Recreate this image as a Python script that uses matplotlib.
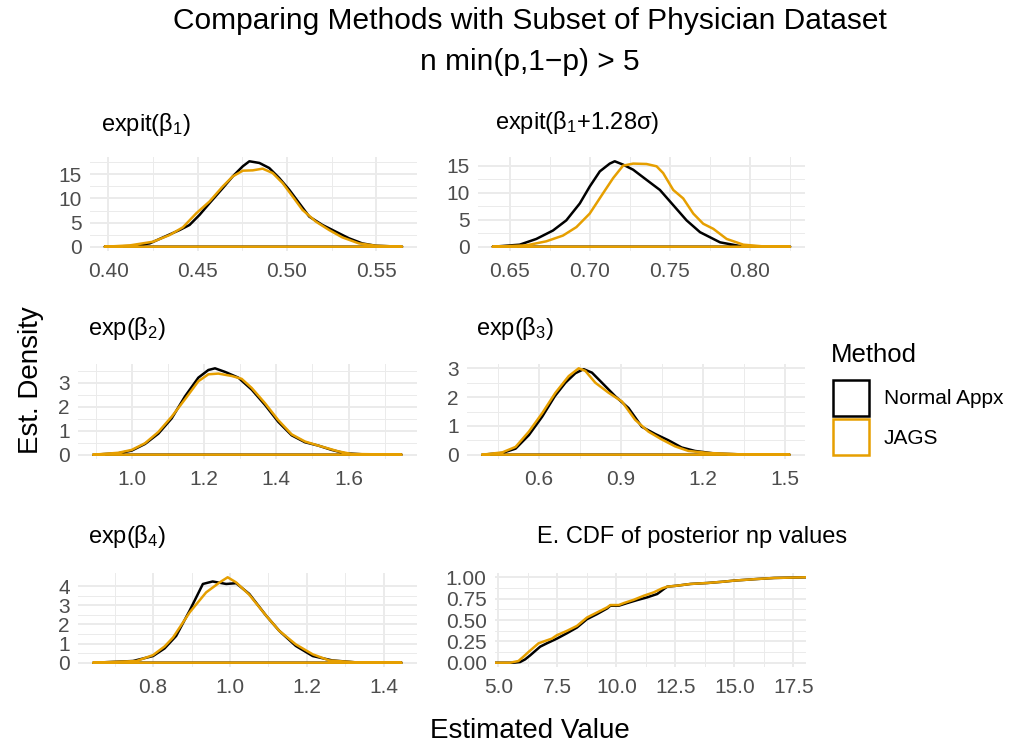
import matplotlib
matplotlib.use("Agg")
import matplotlib.pyplot as plt
from matplotlib.patches import Rectangle

plt.rcParams['font.family'] = ['Liberation Sans', 'DejaVu Sans']
plt.rcParams['mathtext.fontset'] = 'custom'
plt.rcParams['mathtext.rm'] = 'Liberation Sans'
plt.rcParams['mathtext.it'] = 'Liberation Sans'
plt.rcParams['mathtext.default'] = 'regular'

BLACK = "#000000"
ORANGE = "#E69F00"

# ---- data (density outlines) ----
b1_x_norm = [0.3981, 0.4121, 0.4232, 0.4307, 0.4400, 0.4455, 0.4511, 0.4567, 0.4641, 0.4697, 0.4753, 0.4790,
             0.4846, 0.4901, 0.4957, 0.5013, 0.5069, 0.5125, 0.5199, 0.5273, 0.5348, 0.5422, 0.5496, 0.5645]
b1_y_norm = [0, 0.14, 0.69, 1.94, 3.47, 4.51, 6.60, 9.03, 12.15, 14.58, 16.67, 17.71,
             17.36, 16.32, 14.24, 11.81, 9.03, 6.25, 4.51, 3.13, 1.74, 0.69, 0.21, 0]
b1_x_jags = [0.3981, 0.4121, 0.4251, 0.4344, 0.4418, 0.4493, 0.4567, 0.4641, 0.4697, 0.4753, 0.4809, 0.4864,
             0.4920, 0.4976, 0.5032, 0.5087, 0.5162, 0.5236, 0.5310, 0.5403, 0.5496, 0.5645]
b1_y_jags = [0, 0.28, 1.04, 2.43, 4.03, 6.94, 9.38, 12.5, 14.58, 15.76, 15.83, 16.18,
             15.28, 13.19, 10.42, 7.64, 5.21, 3.47, 1.94, 0.69, 0.21, 0]

q_x_norm = [0.6396, 0.6563, 0.6667, 0.6771, 0.6854, 0.6938, 0.7000, 0.7063, 0.7125, 0.7156, 0.7208, 0.7271,
            0.7354, 0.7438, 0.7521, 0.7604, 0.7688, 0.7813, 0.7938, 0.8250]
q_y_norm = [0, 0.38, 1.44, 3.0, 4.88, 8.0, 11.13, 13.94, 15.38, 15.81, 15.19, 14.25,
            12.38, 10.5, 7.69, 4.88, 2.69, 0.81, 0.13, 0]
q_x_jags = [0.6396, 0.6604, 0.6729, 0.6833, 0.6917, 0.7000, 0.7083, 0.7146, 0.7208, 0.7271, 0.7354, 0.7417,
            0.7458, 0.7521, 0.7583, 0.7646, 0.7708, 0.7771, 0.7854, 0.7958, 0.8083, 0.8250]
q_y_jags = [0, 0.25, 1.0, 2.06, 3.63, 6.13, 9.88, 12.69, 15.0, 15.38, 15.31, 14.88,
            13.63, 10.5, 8.94, 6.13, 4.25, 3.31, 1.44, 0.38, 0.06, 0]

b2_x_norm = [0.894, 0.963, 1.0, 1.0369, 1.0737, 1.1106, 1.1475, 1.1843, 1.212, 1.2304, 1.2581, 1.2949,
             1.3318, 1.3687, 1.4055, 1.4424, 1.4793, 1.5161, 1.553, 1.5899, 1.6452, 1.7465]
b2_y_norm = [0, 0.06, 0.17, 0.45, 0.88, 1.52, 2.44, 3.22, 3.54, 3.61, 3.46, 3.22,
             2.72, 2.08, 1.37, 0.81, 0.52, 0.38, 0.20, 0.06, 0.01, 0]
b2_x_jags = [0.894, 0.963, 1.0, 1.0369, 1.0737, 1.1106, 1.1475, 1.1843, 1.212, 1.2396, 1.2765, 1.3041,
             1.3318, 1.3687, 1.4055, 1.4424, 1.4793, 1.5161, 1.5714, 1.6083, 1.7465]
b2_y_jags = [0, 0.08, 0.20, 0.48, 0.95, 1.59, 2.32, 3.07, 3.36, 3.39, 3.29, 3.17,
             2.79, 2.15, 1.44, 0.85, 0.55, 0.38, 0.14, 0.03, 0]

b3_x_norm = [0.3932, 0.4662, 0.5148, 0.5635, 0.6122, 0.6584, 0.6973, 0.7338, 0.7642, 0.7946, 0.8311, 0.8798,
             0.9285, 0.9771, 1.0258, 1.0745, 1.1231, 1.1718, 1.2448, 1.3421, 1.5185]
b3_y_norm = [0, 0.06, 0.21, 0.68, 1.32, 2.03, 2.5, 2.83, 2.97, 2.85, 2.5, 2.03,
             1.62, 0.97, 0.72, 0.5, 0.25, 0.13, 0.04, 0.01, 0]
b3_x_jags = [0.3932, 0.4662, 0.5148, 0.5635, 0.6122, 0.6608, 0.7095, 0.7460, 0.7703, 0.8068, 0.8555, 0.9041,
             0.9528, 1.0015, 1.0501, 1.0988, 1.1474, 1.2204, 1.3421, 1.5185]
b3_y_jags = [0, 0.08, 0.27, 0.80, 1.44, 2.15, 2.73, 3.0, 2.91, 2.5, 2.15, 1.85,
             1.21, 0.80, 0.53, 0.29, 0.13, 0.06, 0.01, 0]

b4_x_norm = [0.645, 0.748, 0.800, 0.830, 0.860, 0.895, 0.9295, 0.955, 0.990, 1.016, 1.050, 1.094, 1.128, 1.171,
             1.215, 1.266, 1.327, 1.446]
b4_y_norm = [0, 0.09, 0.35, 0.75, 1.40, 2.72, 4.12, 4.25, 4.12, 4.16, 3.60, 2.46, 1.67, 0.88,
             0.35, 0.12, 0.02, 0]
b4_x_jags = [0.645, 0.757, 0.800, 0.830, 0.852, 0.895, 0.938, 0.973, 0.994, 1.016, 1.050, 1.094, 1.128, 1.171,
             1.215, 1.258, 1.327, 1.446]
b4_y_jags = [0, 0.09, 0.40, 0.85, 1.32, 2.63, 3.68, 4.20, 4.47, 4.20, 3.56, 2.46, 1.67, 0.96,
             0.44, 0.12, 0.02, 0]

# ECDF of posterior np values
np_x_norm = [4.858, 5.637, 5.92, 6.133, 6.346, 6.558, 6.771, 7.054, 7.479, 7.904, 8.329, 8.754, 9.178, 9.603,
             9.745, 10.099, 10.453, 10.878, 11.303, 11.728, 12.011, 12.153, 12.578, 13.144, 13.853, 14.561,
             14.986, 15.977, 16.686, 18.031]
np_y_norm = [0, 0, 0.008, 0.039, 0.086, 0.137, 0.188, 0.227, 0.282, 0.345, 0.412, 0.51, 0.569, 0.635,
             0.667, 0.667, 0.698, 0.733, 0.765, 0.804, 0.863, 0.89, 0.902, 0.922, 0.933, 0.949,
             0.961, 0.98, 0.992, 1.0]
np_x_jags = [4.858, 5.496, 5.85, 6.062, 6.275, 6.487, 6.7, 6.983, 7.266, 7.479, 7.904, 8.329, 8.754, 9.178,
             9.603, 9.745, 10.099, 10.312, 10.737, 11.161, 11.586, 11.941, 12.153, 12.578, 13.144, 13.853,
             14.561, 14.986, 15.977, 16.686, 18.031]
np_y_jags = [0, 0, 0.02, 0.071, 0.125, 0.176, 0.227, 0.255, 0.282, 0.322, 0.373, 0.431, 0.529, 0.588,
             0.647, 0.675, 0.675, 0.698, 0.737, 0.784, 0.824, 0.871, 0.89, 0.902, 0.922, 0.933,
             0.949, 0.961, 0.98, 0.992, 1.0]

methods = ["Normal Appx", "JAGS"]

W, H = 1010, 747
fig = plt.figure(figsize=(W / 100, H / 100), dpi=100)
fig.patch.set_facecolor("white")

TICK = 15
LW = 1.8


def add_ax(l, t, r, b):
    return fig.add_axes([l / W, 1 - b / H, (r - l) / W, (b - t) / H])


def style(ax, xmaj, xmin, ymaj, ymin, xlabels, ylabels):
    ax.set_facecolor("white")
    for s in ax.spines.values():
        s.set_visible(False)
    ax.set_xticks(xmaj)
    ax.set_xticklabels(xlabels)
    ax.set_xticks(xmin, minor=True)
    ax.set_yticks(ymaj)
    ax.set_yticklabels(ylabels)
    ax.set_yticks(ymin, minor=True)
    ax.grid(True, which="major", color="#EBEBEB", lw=1.4)
    ax.grid(True, which="minor", color="#EBEBEB", lw=0.7)
    ax.set_axisbelow(True)
    ax.tick_params(which="both", length=0, labelsize=TICK, labelcolor="#4D4D4D")
    ax.tick_params(axis="x", pad=8)
    ax.tick_params(axis="y", pad=6)


def density(ax, xs, ys, color):
    xx = list(xs) + [xs[0]]
    yy = list(ys) + [0]
    ax.plot(xx, yy, color=color, lw=LW, solid_joinstyle="round", solid_capstyle="round")


# panel 1
ax1 = add_ax(90, 157, 417, 251)
density(ax1, b1_x_norm, b1_y_norm, BLACK)
density(ax1, b1_x_jags, b1_y_jags, ORANGE)
ax1.margins(x=0.05, y=0.05)
style(ax1, [0.40, 0.45, 0.50, 0.55], [0.425, 0.475, 0.525], [0, 5, 10, 15], [2.5, 7.5, 12.5, 17.5],
      ["0.40", "0.45", "0.50", "0.55"], ["0", "5", "10", "15"])

# panel 2
ax2 = add_ax(478, 157, 805, 251)
density(ax2, q_x_norm, q_y_norm, BLACK)
density(ax2, q_x_jags, q_y_jags, ORANGE)
ax2.margins(x=0.05, y=0.05)
style(ax2, [0.65, 0.70, 0.75, 0.80], [0.675, 0.725, 0.775, 0.825], [0, 5, 10, 15], [2.5, 7.5, 12.5],
      ["0.65", "0.70", "0.75", "0.80"], ["0", "5", "10", "15"])

# panel 3
ax3 = add_ax(78, 364, 417, 459)
density(ax3, b2_x_norm, b2_y_norm, BLACK)
density(ax3, b2_x_jags, b2_y_jags, ORANGE)
ax3.margins(x=0.05, y=0.05)
style(ax3, [1.0, 1.2, 1.4, 1.6], [0.9, 1.1, 1.3, 1.5, 1.7], [0, 1, 2, 3], [0.5, 1.5, 2.5, 3.5],
      ["1.0", "1.2", "1.4", "1.6"], ["0", "1", "2", "3"])

# panel 4
ax4 = add_ax(467, 364, 805, 459)
density(ax4, b3_x_norm, b3_y_norm, BLACK)
density(ax4, b3_x_jags, b3_y_jags, ORANGE)
ax4.margins(x=0.05, y=0.05)
style(ax4, [0.6, 0.9, 1.2, 1.5], [0.45, 0.75, 1.05, 1.35], [0, 1, 2, 3], [0.5, 1.5, 2.5],
      ["0.6", "0.9", "1.2", "1.5"], ["0", "1", "2", "3"])

# panel 5
ax5 = add_ax(78, 573, 417, 667)
density(ax5, b4_x_norm, b4_y_norm, BLACK)
density(ax5, b4_x_jags, b4_y_jags, ORANGE)
ax5.margins(x=0.05, y=0.05)
style(ax5, [0.8, 1.0, 1.2, 1.4], [0.7, 0.9, 1.1, 1.3], [0, 1, 2, 3, 4], [0.5, 1.5, 2.5, 3.5],
      ["0.8", "1.0", "1.2", "1.4"], ["0", "1", "2", "3", "4"])

# panel 6 (ECDF)
ax6 = add_ax(495, 573, 806, 667)
ax6.plot(np_x_norm, np_y_norm, color=BLACK, lw=LW)
ax6.plot(np_x_jags, np_y_jags, color=ORANGE, lw=LW)
ax6.set_xlim(4.858, 18.031)
ax6.set_ylim(-0.05, 1.05)
style(ax6, [5.0, 7.5, 10.0, 12.5, 15.0, 17.5], [6.25, 8.75, 11.25, 13.75, 16.25],
      [0, 0.25, 0.5, 0.75, 1.0], [0.125, 0.375, 0.625, 0.875],
      ["5.0", "7.5", "10.0", "12.5", "15.0", "17.5"], ["0.00", "0.25", "0.50", "0.75", "1.00"])


def ftext(x, y, s, **kw):
    fig.text(x / W, 1 - y / H, s, **kw)


PT = 17
# panel titles
ftext(101, 124, r"expit($\beta_1$)", fontsize=PT, va="center", ha="left")
ftext(495, 123, r"expit($\beta_1$+1.28σ)", fontsize=PT, va="center", ha="left")
ftext(88, 328, r"exp($\beta_2$)", fontsize=PT, va="center", ha="left")
ftext(476, 328, r"exp($\beta_3$)", fontsize=PT, va="center", ha="left")
ftext(88, 537, r"exp($\beta_4$)", fontsize=PT, va="center", ha="left")
ftext(537, 537, "E. CDF of posterior np values", fontsize=PT, va="center", ha="left")

# main titles
ftext(530, 21, "Comparing Methods with Subset of Physician Dataset", fontsize=21.5, ha="center", va="center")
ftext(530, 62, "n min(p,1\u2212p) > 5", fontsize=21.5, ha="center", va="center")
ftext(31, 380, "Est. Density", fontsize=20, ha="center", va="center", rotation=90)
ftext(530, 731, "Estimated Value", fontsize=20, ha="center", va="center")

# legend
ftext(831, 355, "Method", fontsize=18.5, ha="left", va="center")
for i, (m, c) in enumerate(zip(methods, [BLACK, ORANGE])):
    y0 = 380 + i * 39
    fig.add_artist(Rectangle((833 / W, 1 - (y0 + 36) / H), 36 / W, 36 / H,
                             transform=fig.transFigure, facecolor="white", edgecolor=c, lw=1.8))
    ftext(884, y0 + 19, m, fontsize=15, ha="left", va="center")

fig.savefig("out.png", dpi=100, facecolor="white")
